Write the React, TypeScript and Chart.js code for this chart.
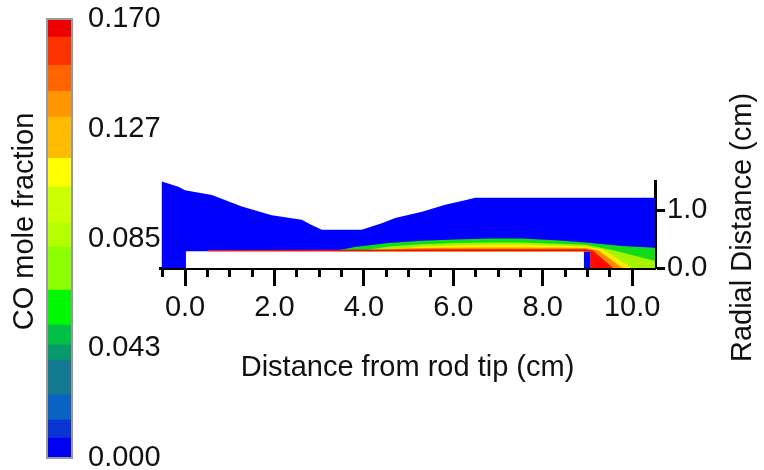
import React, { useEffect, useRef } from 'react';
import { Chart, registerables } from 'chart.js';

Chart.register(...registerables);

const FONT = "'Liberation Sans', Arial, Helvetica, sans-serif";

// ---------- axis ranges & ticks ----------
const X_MIN = -0.56;
const X_MAX = 10.51;
const Y_MIN = 0;
const Y_MAX = 1.5;
const xMajorTicks = [0, 2, 4, 6, 8, 10];
const xMajorLabels = ['0.0', '2.0', '4.0', '6.0', '8.0', '10.0'];
const xMinorTicks = [-0.5, 0.5, 1, 1.5, 2.5, 3, 3.5, 4.5, 5, 5.5, 6.5, 7, 7.5, 8.5, 9, 9.5];
const yTickValues = [0, 0.5, 1.0, 1.5];
const yTickLabels = ['0.0', '', '1.0', ''];

// ---------- contour regions (x = distance from rod tip, y = radial distance, cm) ----------
const domainX = [-0.52, -0.52, -0.15, 0.0, 0.6, 1.27, 1.94, 2.61, 2.83, 3.06, 3.95, 4.4, 4.7, 5.3, 5.82, 6.26, 6.49, 10.51, 10.51, -0.52];
const domainY = [0.0, 1.49, 1.4, 1.34, 1.26, 1.06, 0.91, 0.83, 0.74, 0.66, 0.66, 0.77, 0.86, 0.97, 1.09, 1.17, 1.21, 1.21, 0.0, 0.0];

const rodX = [0.02, 8.92, 8.92, 0.02, 0.02];
const rodY = [0.0, 0.0, 0.29, 0.29, 0.0];

const greenX = [3.3, 3.8, 4.55, 5.3, 6.04, 6.8, 7.53, 8.28, 8.95, 9.77, 10.51, 10.51, 9.06, 9.06, 3.3];
const greenY = [0.29, 0.36, 0.43, 0.47, 0.49, 0.51, 0.51, 0.48, 0.44, 0.38, 0.35, 0.0, 0.0, 0.29, 0.29];

const limeX = [3.9, 4.55, 5.3, 6.04, 6.8, 7.53, 8.28, 8.95, 9.6, 10.51, 10.51, 9.06, 9.06, 3.9];
const limeY = [0.29, 0.37, 0.41, 0.43, 0.44, 0.44, 0.42, 0.4, 0.3, 0.12, 0.0, 0.0, 0.29, 0.29];

const yellowX = [4.3, 5.3, 6.04, 6.8, 7.53, 8.28, 8.95, 9.35, 10.0, 9.06, 9.06, 4.3];
const yellowY = [0.29, 0.37, 0.39, 0.4, 0.4, 0.39, 0.37, 0.32, 0.0, 0.0, 0.29, 0.29];

const orangeX = [4.0, 5.0, 6.0, 7.0, 8.0, 8.95, 9.25, 9.78, 9.06, 9.06, 4.0];
const orangeY = [0.29, 0.34, 0.35, 0.355, 0.35, 0.345, 0.3, 0.0, 0.0, 0.29, 0.29];

const redX = [0.5, 3.0, 6.0, 8.95, 9.12, 9.57, 9.06, 9.06, 0.5];
const redY = [0.31, 0.315, 0.325, 0.325, 0.3, 0.0, 0.0, 0.29, 0.29];

// ---------- colour bar ----------
const cbBounds = [0.0, 0.0077, 0.0147, 0.0244, 0.0379, 0.0438, 0.0515, 0.065, 0.0817, 0.091, 0.105, 0.116, 0.132, 0.142, 0.152, 0.163, 0.17];
const cbColors = ['#0000f5', '#0a34d2', '#0a62c4', '#137892', '#079a6c', '#00c046', '#00f800', '#8cff00', '#b4ff00', '#ccff00', '#ffff00', '#ffbb00', '#ff9500', '#ff6400', '#ff3300', '#ee0000'];
const cbTickValues = [0, 0.0425, 0.085, 0.1275, 0.17];
const cbTickLabels = ['0.000', '0.043', '0.085', '0.127', '0.170'];

const toPoints = (xs: number[], ys: number[]) => xs.map((x, i) => ({ x, y: ys[i] }));

const verticalTitle = {
  id: 'verticalTitle',
  afterDraw(chart: any, _args: any, opts: any) {
    if (!opts || !opts.text) return;
    const ctx = chart.ctx;
    ctx.save();
    ctx.translate(opts.x, opts.y);
    ctx.rotate(-Math.PI / 2);
    ctx.font = `${opts.size}px ${FONT}`;
    ctx.fillStyle = opts.color;
    ctx.textAlign = 'center';
    ctx.textBaseline = 'middle';
    ctx.fillText(opts.text, 0, 0);
    ctx.restore();
  },
};

const frame = {
  id: 'frame',
  afterDatasetsDraw(chart: any, _args: any, opts: any) {
    if (!opts || !opts.color) return;
    const { left, top, right, bottom } = chart.chartArea;
    const ctx = chart.ctx;
    ctx.save();
    ctx.strokeStyle = opts.color;
    ctx.lineWidth = opts.width;
    ctx.strokeRect(left, top, right - left, bottom - top);
    ctx.restore();
  },
};

function region(label: string, xs: number[], ys: number[], color: string, order: number) {
  return {
    label,
    data: toPoints(xs, ys),
    backgroundColor: color,
    borderColor: 'transparent',
    borderWidth: 0,
    pointRadius: 0,
    fill: 'shape',
    tension: 0,
    order,
  };
}

export default function App() {
  const mainRef = useRef<HTMLCanvasElement>(null);
  const barRef = useRef<HTMLCanvasElement>(null);

  useEffect(() => {
    document.body.style.margin = '0';
    const tickFont = { family: FONT, size: 29 };

    const main = new Chart(mainRef.current as HTMLCanvasElement, {
      type: 'line',
      data: {
        datasets: [
          region('domain', domainX, domainY, '#0000ff', 7),
          region('rod', rodX, rodY, '#ffffff', 6),
          region('green', greenX, greenY, '#12dc1a', 5),
          region('lime', limeX, limeY, '#a6f500', 4),
          region('yellow', yellowX, yellowY, '#ffee00', 3),
          region('orange', orangeX, orangeY, '#ff8a00', 2),
          region('red', redX, redY, '#ff0a00', 1),
        ] as any,
      },
      options: {
        animation: false,
        responsive: false,
        events: [],
        layout: { padding: { left: 160, top: 181, right: 0, bottom: 0 } },
        plugins: {
          legend: { display: false },
          tooltip: { enabled: false },
          verticalTitle: { text: 'Radial Distance (cm)', x: 742.5, y: 227.5, size: 29, color: '#111' },
        } as any,
        scales: {
          xMinor: {
            type: 'linear',
            axis: 'x',
            position: 'bottom',
            weight: 0,
            min: X_MIN,
            max: X_MAX,
            afterBuildTicks: (a: any) => { a.ticks = xMinorTicks.map((v) => ({ value: v })); },
            afterFit: (a: any) => { a.height = 0; },
            ticks: { display: false },
            grid: { display: true, drawOnChartArea: false, tickLength: 9, tickWidth: 3, tickColor: '#000' },
            border: { display: false },
            z: 2,
          },
          x: {
            type: 'linear',
            position: 'bottom',
            weight: 1,
            min: X_MIN,
            max: X_MAX,
            afterBuildTicks: (a: any) => { a.ticks = xMajorTicks.map((v) => ({ value: v })); },
            afterFit: (a: any) => { a.height = 202; },
            ticks: {
              font: tickFont,
              color: '#111',
              padding: 5,
              maxRotation: 0,
              autoSkip: false,
              callback: (_v: any, i: number) => xMajorLabels[i],
            },
            grid: { display: true, drawOnChartArea: false, tickLength: 18, tickWidth: 3, tickColor: '#000' },
            border: { display: true, color: '#000', width: 3 },
            title: {
              display: true,
              text: 'Distance from rod tip (cm)',
              font: { family: FONT, size: 29 },
              color: '#111',
              padding: { top: 0, bottom: 84.6 },
            },
            z: 2,
          },
          y: {
            type: 'linear',
            position: 'right',
            min: Y_MIN,
            max: Y_MAX,
            afterBuildTicks: (a: any) => { a.ticks = yTickValues.map((v) => ({ value: v })); },
            afterFit: (a: any) => { a.width = 109; },
            ticks: {
              font: tickFont,
              color: '#111',
              padding: 2,
              callback: (_v: any, i: number) => yTickLabels[i],
            },
            grid: { display: true, drawOnChartArea: false, tickLength: 10, tickWidth: 3, tickColor: '#000' },
            border: { display: true, color: '#000', width: 3 },
            z: 2,
          },
        } as any,
      },
      plugins: [verticalTitle],
    });

    const bar = new Chart(barRef.current as HTMLCanvasElement, {
      type: 'bar',
      data: {
        labels: ['CO'],
        datasets: cbColors.map((c, i) => ({
          label: `level ${i}`,
          data: [[cbBounds[i], cbBounds[i + 1]]],
          backgroundColor: c,
          borderWidth: 0,
          barPercentage: 1,
          categoryPercentage: 1,
          grouped: false,
        })) as any,
      },
      options: {
        animation: false,
        responsive: false,
        events: [],
        layout: { padding: { left: 47, top: 19, right: 0, bottom: 12 } },
        plugins: {
          legend: { display: false },
          tooltip: { enabled: false },
          verticalTitle: { text: 'CO mole fraction', x: 25, y: 221.5, size: 29, color: '#111' },
          frame: { color: '#9a9a9a', width: 2 },
        } as any,
        scales: {
          x: { display: false, stacked: true },
          y: {
            position: 'right',
            min: 0,
            max: 0.17,
            afterBuildTicks: (a: any) => { a.ticks = cbTickValues.map((v) => ({ value: v })); },
            afterFit: (a: any) => { a.width = 90; a.paddingTop = 0; a.paddingBottom = 0; },
            ticks: {
              font: { family: FONT, size: 29, lineHeight: 0.8 },
              color: '#111',
              padding: 8,
              callback: (_v: any, i: number) => cbTickLabels[i],
            },
            grid: { display: false },
            border: { display: false },
          },
        } as any,
      },
      plugins: [verticalTitle, frame],
    });

    return () => {
      main.destroy();
      bar.destroy();
    };
  }, []);

  return (
    <div style={{ position: 'absolute', left: 0, top: 0, width: 764, height: 470, background: '#fff', overflow: 'hidden' }}>
      <canvas ref={mainRef} width={764} height={470} style={{ position: 'absolute', left: 0, top: 0, width: 764, height: 470 }} />
      <canvas ref={barRef} width={162} height={470} style={{ position: 'absolute', left: 0, top: 0, width: 162, height: 470 }} />
    </div>
  );
}
